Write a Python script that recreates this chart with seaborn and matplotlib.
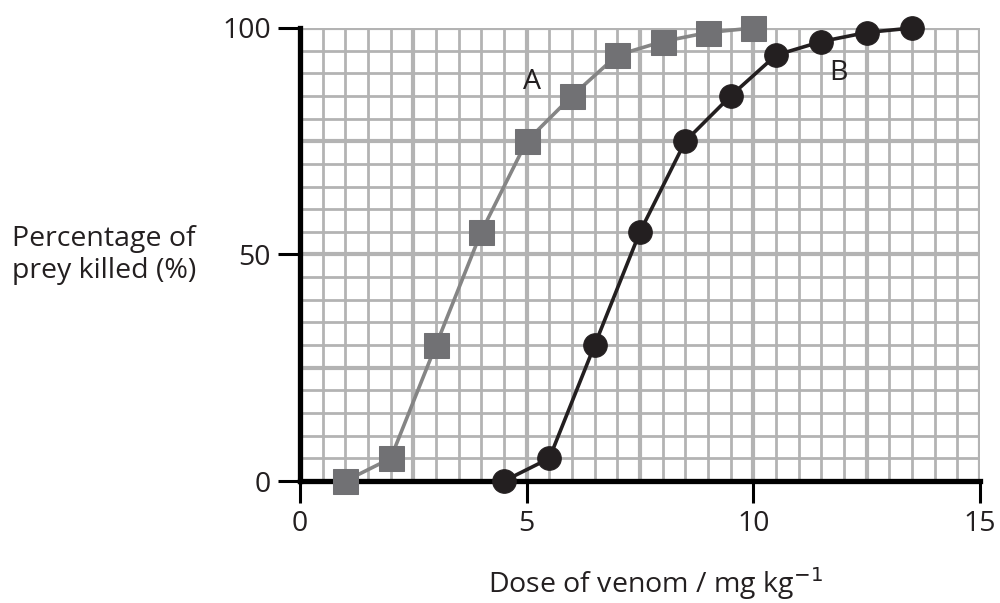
import numpy as np
import pandas as pd
import seaborn as sns
import matplotlib.pyplot as plt

# data
dose_a = [1, 2, 3, 4, 5, 6, 7, 8, 9, 10]
kill_a = [0, 5, 30, 55, 75, 85, 94, 97, 99, 100]
dose_b = [4.5, 5.5, 6.5, 7.5, 8.5, 9.5, 10.5, 11.5, 12.5, 13.5]
kill_b = [0, 5, 30, 55, 75, 85, 94, 97, 99, 100]
x_ticks = [0, 5, 10, 15]
y_ticks = [0, 50, 100]

sns.set_theme(style="white")
plt.rcParams['font.family'] = ['Open Sans', 'DejaVu Sans']

df_a = pd.DataFrame({'dose': dose_a, 'kill': kill_a})
df_b = pd.DataFrame({'dose': dose_b, 'kill': kill_b})

fig = plt.figure(figsize=(10, 6.03), dpi=100)
ax = fig.add_axes([0.3, 0.2023, 0.68, 0.7513])

fs = 20.5
# graph paper grid
grid_col = '#b3b3b3'
for x in np.arange(0.5, 15.01, 0.5):
    lw = 3.0 if abs(x / 2.5 - round(x / 2.5)) < 1e-6 else 2.0
    ax.axvline(x, color=grid_col, lw=lw, zorder=0.5)
for y in np.arange(5, 100.01, 5):
    lw = 3.0 if y % 25 == 0 else 2.0
    ax.axhline(y, color=grid_col, lw=lw, zorder=0.5)

sns.lineplot(data=df_a, x='dose', y='kill', ax=ax, color='#858585', lw=2.6,
             marker='s', markersize=18, markerfacecolor='#717174',
             markeredgecolor='#717174', clip_on=False, zorder=4)
sns.lineplot(data=df_b, x='dose', y='kill', ax=ax, color='#231f20', lw=2.6,
             marker='o', markersize=17, markerfacecolor='#231f20',
             markeredgecolor='#231f20', clip_on=False, zorder=4)

ax.text(5.12, 88, 'A', fontsize=fs, ha='center', va='center', color='#231f20')
ax.text(11.87, 90, 'B', fontsize=fs, ha='center', va='center', color='#231f20')

ax.set_xlim(0, 15)
ax.set_ylim(0, 100)
ax.set_xticks(x_ticks)
ax.set_yticks(y_ticks)
ax.tick_params(axis='both', direction='out', length=16, width=2.2, color='black',
               labelsize=fs, labelcolor='#231f20', pad=5, bottom=True, left=True)

for s in ['top', 'right']:
    ax.spines[s].set_visible(False)
for s in ['left', 'bottom']:
    ax.spines[s].set_color('black')
    ax.spines[s].set_linewidth(3.8)
    ax.spines[s].set_zorder(3)

ax.set_xlabel('')
ax.set_ylabel('')
fig.text(0.655, 0.033, 'Dose of venom / mg kg$^{\u22121}$', fontsize=fs,
         ha='center', va='center', color='#231f20')
fig.text(0.012, 0.577, 'Percentage of\nprey killed (%)', fontsize=fs,
         ha='left', va='center', color='#231f20', linespacing=1.2)

fig.savefig('out.png', dpi=100)
